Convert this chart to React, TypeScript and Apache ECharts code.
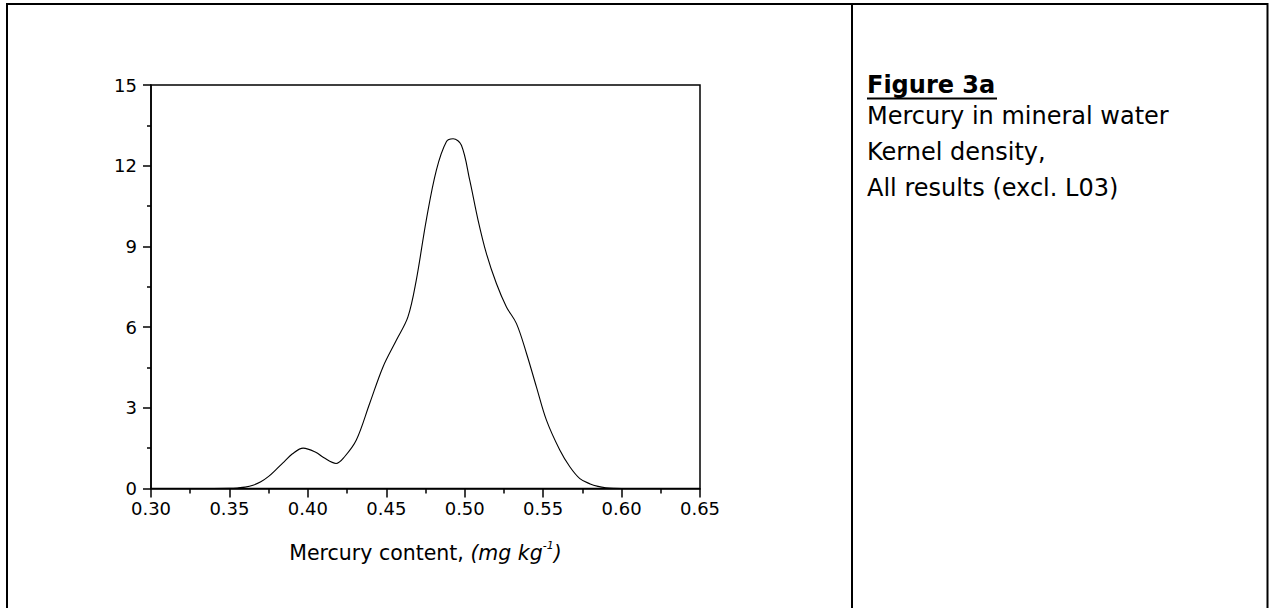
import React, { useEffect, useRef } from "react";
import * as echarts from "echarts";

const xValues = [
  0.34, 0.35, 0.355, 0.36, 0.365, 0.37, 0.375, 0.38, 0.385, 0.39, 0.397, 0.405, 0.41, 0.418,
  0.4234, 0.4309, 0.4394, 0.4479, 0.4564, 0.4638, 0.4691, 0.4755, 0.4819, 0.4883, 0.4926,
  0.4979, 0.5032, 0.5085, 0.5138, 0.5202, 0.5266, 0.533, 0.5394, 0.5457, 0.5521, 0.5606,
  0.567, 0.5734, 0.58, 0.585, 0.59, 0.595, 0.6,
];
const densityValues = [
  0.0, 0.005, 0.02, 0.05, 0.12, 0.25, 0.45, 0.72, 1.0, 1.28, 1.5, 1.35, 1.15, 0.93,
  1.18, 1.8, 3.16, 4.52, 5.51, 6.38, 7.74, 9.98, 11.83, 12.89, 13.0,
  12.76, 11.46, 9.98, 8.74, 7.62, 6.75, 6.13, 5.02, 3.78, 2.54, 1.43,
  0.81, 0.37, 0.17, 0.08, 0.03, 0.008, 0.0,
];
const xTitle = "Mercury content, ";
const xTitleUnit = "(mg kg";
const figureTitle = "Figure 3a";
const figureLines = ["Mercury in mineral water", "Kernel density,", "All results (excl. L03)"];

export default function App() {
  const ref = useRef<HTMLDivElement>(null);
  useEffect(() => {
    if (!ref.current) return;
    const chart = echarts.init(ref.current, null, { renderer: "svg" });
    const font = "DejaVu Sans";
    const data = xValues.map((x, i) => [x, densityValues[i]]);
    const L = 151, R = 700, T = 85, B = 488.5;
    const tx = 867;
    const lineYs = [116, 152, 188];
    chart.setOption({
      animation: false,
      backgroundColor: "#fff",
      textStyle: { fontFamily: font },
      grid: { left: L, top: T, width: R - L, height: B - T, show: true, borderColor: "#000", borderWidth: 1.5 },
      xAxis: {
        type: "value",
        min: 0.3,
        max: 0.65,
        interval: 0.05,
        axisLine: { lineStyle: { color: "#000", width: 1.5 } },
        axisTick: { inside: false, length: 9, lineStyle: { color: "#000", width: 1.5 } },
        minorTick: { show: true, splitNumber: 2, length: 5, lineStyle: { color: "#000", width: 1.5 } },
        splitLine: { show: false },
        axisLabel: { color: "#000", fontSize: 18, fontFamily: font, margin: 11, formatter: (v: number) => v.toFixed(2) },
      },
      yAxis: {
        type: "value",
        min: 0,
        max: 15,
        interval: 3,
        axisLine: { show: true, lineStyle: { color: "#000", width: 1.5 } },
        axisTick: { show: true, inside: false, length: 8, lineStyle: { color: "#000", width: 1.5 } },
        minorTick: { show: true, splitNumber: 2, length: 4, lineStyle: { color: "#000", width: 1.5 } },
        splitLine: { show: false },
        axisLabel: { color: "#000", fontSize: 18, fontFamily: font, margin: 14 },
      },
      series: [
        {
          type: "line",
          data,
          smooth: 0.35,
          showSymbol: false,
          lineStyle: { color: "#000", width: 1.1 },
        },
      ],
      graphic: [
        { type: "line", shape: { x1: 6, y1: 4, x2: 1268, y2: 4 }, style: { stroke: "#000", lineWidth: 2 } },
        { type: "line", shape: { x1: 7, y1: 3, x2: 7, y2: 608 }, style: { stroke: "#000", lineWidth: 2 } },
        { type: "line", shape: { x1: 1267.5, y1: 3, x2: 1267.5, y2: 608 }, style: { stroke: "#000", lineWidth: 2 } },
        { type: "line", shape: { x1: 852, y1: 3, x2: 852, y2: 608 }, style: { stroke: "#000", lineWidth: 2 } },
        {
          type: "text",
          x: (L + R) / 2,
          y: 553,
          style: {
            text: `{n|${xTitle}}{i|${xTitleUnit}}{s|-1}{i|)}`,
            align: "center",
            verticalAlign: "middle",
            rich: {
              n: { fontFamily: font, fontSize: 20.5, fill: "#000", lineHeight: 26 },
              i: { fontFamily: font, fontSize: 20.5, fontStyle: "italic", fill: "#000", lineHeight: 26 },
              s: { fontFamily: font, fontSize: 11, fontStyle: "italic", fill: "#000", lineHeight: 14, verticalAlign: "top" },
            },
          },
        },
        {
          type: "text",
          x: tx,
          y: 85,
          style: { text: figureTitle, fontFamily: font, fontSize: 24, fontWeight: "bold", fill: "#000", verticalAlign: "middle" },
        },
        { type: "line", shape: { x1: tx, y1: 98.5, x2: tx + 130, y2: 98.5 }, style: { stroke: "#000", lineWidth: 2 } },
        ...figureLines.map((t, i) => ({
          type: "text",
          x: tx,
          y: lineYs[i],
          style: { text: t, fontFamily: font, fontSize: 24, fill: "#000", verticalAlign: "middle" },
        })),
      ],
    });
    return () => chart.dispose();
  }, []);
  return (
    <div style={{ position: "fixed", left: 0, top: 0 }}>
      <div ref={ref} style={{ width: 1269, height: 608 }} />
    </div>
  );
}
